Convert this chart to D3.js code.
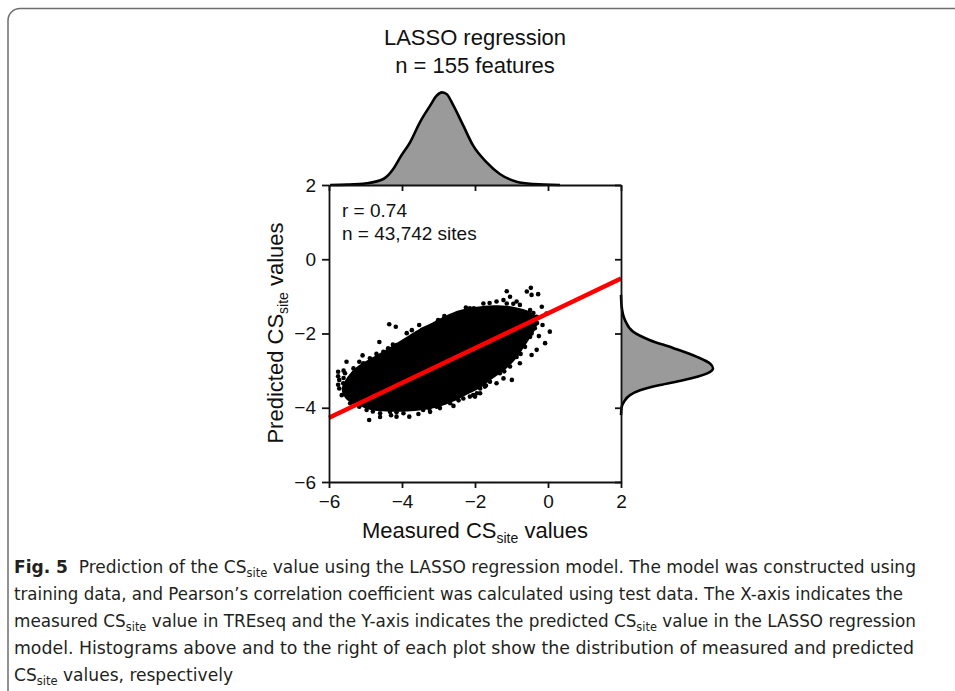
<!DOCTYPE html>
<html><head><meta charset="utf-8">
<script src="https://cdn.jsdelivr.net/npm/d3@7"></script>
<style>body{margin:0;background:#fff} svg{display:block}</style>
</head><body><svg id="c" width="955" height="691"></svg>
<script>
// ---------- data ----------
const axisTicks = [-6, -4, -2, 0, 2];
const titleLines = ["LASSO regression", "n = 155 features"];
const statLines = ["r = 0.74", "n = 43,742 sites"];
// density of measured values (top margin): [value, density]
const topDensity = [[-5.97,0],[-5.5,0.002],[-4.97,0.010],[-4.51,0.036],[-4.24,0.096],[-4.05,0.166],[-3.78,0.256],[-3.51,0.376],[-3.23,0.476],[-3.05,0.536],[-2.91,0.556],[-2.78,0.546],[-2.59,0.476],[-2.32,0.356],[-2.05,0.236],[-1.68,0.136],[-1.32,0.066],[-0.86,0.020],[-0.40,0.006],[0.33,0]];
// density of predicted values (right margin): [value, density]
const rightDensity = [[-0.96,0],[-1.28,0.004],[-1.64,0.024],[-1.95,0.072],[-2.18,0.174],[-2.39,0.312],[-2.63,0.456],[-2.81,0.534],[-2.94,0.552],[-3.08,0.514],[-3.26,0.372],[-3.39,0.234],[-3.53,0.114],[-3.66,0.054],[-3.84,0.018],[-3.98,0.004],[-4.2,0]];
// outline of the solid, over-plotted core of the point cloud (measured, predicted)
const cloudCore = [[-5.55,-3.25],[-5.28,-2.93],[-4.85,-2.67],[-4.40,-2.41],[-3.96,-2.14],[-3.51,-1.87],[-3.14,-1.69],[-2.78,-1.51],[-2.41,-1.37],[-1.95,-1.28],[-1.50,-1.24],[-0.95,-1.28],[-0.60,-1.37],[-0.36,-1.51],[-0.28,-1.66],[-0.36,-1.91],[-0.53,-2.18],[-0.71,-2.45],[-0.90,-2.71],[-1.16,-2.96],[-1.52,-3.22],[-1.88,-3.48],[-2.25,-3.66],[-2.61,-3.84],[-2.98,-3.97],[-3.42,-4.06],[-3.87,-4.10],[-4.42,-4.10],[-4.86,-4.06],[-5.20,-3.93],[-5.50,-3.80],[-5.64,-3.58],[-5.64,-3.43]];
// sites sitting on the ragged edge of the core
const edgePoints = [[-4.51,-2.49],[-4.38,-2.40],[-4.15,-2.31],[-4.01,-2.36],[-3.78,-2.13],[-3.60,-2.04],[-3.32,-1.91],[-3.14,-1.82],[-2.96,-1.73],[-2.68,-1.55],[-2.41,-1.46],[-4.88,-2.67],[-5.06,-2.80],[-5.33,-2.94],[-5.56,-3.07],[-5.61,-3.34],[-5.56,-3.52],[-5.42,-3.70],[-5.15,-3.88],[-4.97,-4.06],[-4.60,-4.15],[-4.33,-4.11],[-3.96,-4.15],[-3.42,-4.06],[-3.05,-3.97],[-2.68,-3.88],[-2.32,-3.75],[-2.05,-3.66],[-2.14,-1.32],[-1.77,-1.19],[-1.41,-1.14],[-1.13,-1.19],[-0.77,-1.23],[-0.49,-1.37],[-0.31,-1.55],[-0.36,-1.86],[-0.49,-2.09],[-0.63,-2.36],[-0.86,-2.63],[-1.04,-2.89],[-1.32,-3.07],[-1.59,-3.30],[-1.86,-3.48],[-4.70,-2.55],[-4.25,-2.30],[-3.45,-1.90],[-2.85,-1.62],[-2.25,-1.30],[-1.60,-1.18],[-0.95,-1.20],[-0.40,-1.45],[-0.30,-1.72],[-0.45,-2.00],[-0.75,-2.55],[-1.20,-3.02],[-1.70,-3.40],[-2.45,-3.80],[-3.25,-4.02],[-4.15,-4.12],[-4.80,-4.10],[-5.35,-3.85],[-5.60,-3.20]];
// individual sites visible around the core
const cloudPoints = [[-4.35,-1.75],[-4.17,-1.82],[-3.53,-1.77],[-4.62,-2.23],[-5.08,-2.59],[-5.52,-2.76],[-5.17,-2.76],[-4.79,-2.71],[-3.73,-1.91],[-3.87,-1.99],[-2.03,-1.32],[-2.84,-1.53],[-3.01,-1.64],[-5.75,-3.03],[-5.72,-3.25],[-5.72,-3.48],[-5.65,-3.66],[-4.90,-4.33],[-4.15,-4.24],[-3.80,-4.24],[-3.55,-4.17],[-3.23,-4.11],[-2.96,-4.01],[-2.59,-3.95],[-2.14,-3.70],[-1.95,-3.61],[-5.17,-3.97],[-5.42,-3.88],[-0.47,-0.77],[-0.58,-0.87],[-0.27,-0.94],[-0.45,-0.96],[-1.04,-1.01],[-0.86,-1.14],[-1.22,-1.10],[-0.17,-1.28],[-0.04,-1.46],[0.05,-1.95],[-0.08,-2.26],[-0.15,-1.77],[-0.31,-2.44],[-0.45,-2.58],[-0.77,-2.80],[-0.99,-3.25],[-1.22,-3.21],[-1.41,-3.34],[-1.73,-3.43],[-1.86,-3.61],[-2.00,-3.70],[-1.13,-0.86],[-0.25,-2.07],[-5.75,-3.15],[-5.75,-3.38],[-5.6,-3.0],[-4.6,-4.25],[-4.3,-4.2]];
// least-squares fit line end points
const fitLine = [[-6, -4.27], [2, -0.52]];
// caption, as runs of text: b = bold, s = subscript
const captionLines = [
  [{t:"Fig. 5", b:1},{t:"\u00a0 Prediction of the CS"},{t:"site", s:1},{t:" value using the LASSO regression model. The model was constructed using"}],
  [{t:"training data, and Pearson\u2019s correlation coefficient was calculated using test data. The X-axis indicates the"}],
  [{t:"measured CS"},{t:"site", s:1},{t:" value in TREseq and the Y-axis indicates the predicted CS"},{t:"site", s:1},{t:" value in the LASSO regression"}],
  [{t:"model. Histograms above and to the right of each plot show the distribution of measured and predicted"}],
  [{t:"CS"},{t:"site", s:1},{t:" values, respectively"}]
];
const captionWidths = [902, 889, 902, 900, 219];

// ---------- drawing ----------
const svg = d3.select("#c");
const x = d3.scaleLinear([-6, 2], [329, 621]);
const y = d3.scaleLinear([-6, 2], [482, 185]);
const dens = d3.scaleLinear([0, 0.6], [0, 100]);
const FONT = "'Liberation Sans', Arial, Helvetica, sans-serif";

// figure frame
svg.append("rect").attr("x", 8).attr("y", 8.5).attr("width", 1000).attr("height", 720)
  .attr("rx", 12).attr("fill", "none").attr("stroke", "#6e6e6e").attr("stroke-width", 1.5);

// titles
svg.selectAll("text.title").data(titleLines).join("text").attr("class", "title")
  .attr("x", 475).attr("y", (d, i) => 45 + i * 28).attr("text-anchor", "middle")
  .attr("font-family", FONT).attr("font-size", 22).attr("fill", "#111").text(d => d);

// core cloud
svg.append("path").datum(cloudCore)
  .attr("d", d3.line().x(d => x(d[0])).y(d => y(d[1])).curve(d3.curveCatmullRomClosed))
  .attr("fill", "#000");
svg.append("g").selectAll("circle").data(edgePoints.concat(cloudPoints)).join("circle")
  .attr("cx", d => x(d[0])).attr("cy", d => y(d[1])).attr("r", 2.3).attr("fill", "#000");

// fit line
svg.append("path").datum(fitLine)
  .attr("d", d3.line().x(d => x(d[0])).y(d => y(d[1])))
  .attr("stroke", "#ff0000").attr("stroke-width", 4.5).attr("fill", "none");

// densities
svg.append("path").datum(topDensity)
  .attr("d", d3.area().x(d => x(d[0])).y0(y(2)).y1(d => y(2) - dens(d[1])).curve(d3.curveMonotoneX))
  .attr("fill", "#9a9a9a");
svg.append("path").datum(topDensity)
  .attr("d", d3.line().x(d => x(d[0])).y(d => y(2) - dens(d[1])).curve(d3.curveMonotoneX))
  .attr("fill", "none").attr("stroke", "#000").attr("stroke-width", 2.6);
svg.append("path").datum(rightDensity)
  .attr("d", d3.area().y(d => y(d[0])).x0(x(2)).x1(d => x(2) + dens(d[1])).curve(d3.curveMonotoneY))
  .attr("fill", "#9a9a9a");
svg.append("path").datum(rightDensity)
  .attr("d", d3.line().y(d => y(d[0])).x(d => x(2) + dens(d[1])).curve(d3.curveMonotoneY))
  .attr("fill", "none").attr("stroke", "#000").attr("stroke-width", 2.6);

// axes
function styleAxis(g) {
  g.selectAll("path.domain").attr("stroke", "#111").attr("stroke-width", 1.8);
  g.selectAll(".tick line").attr("stroke", "#111").attr("stroke-width", 1.8);
  g.selectAll(".tick text").attr("font-family", FONT).attr("font-size", 19).attr("fill", "#111");
}
const fmt = d => d < 0 ? "\u2212" + Math.abs(d) : String(d);
svg.append("g").attr("transform", `translate(0,${y(-6)})`)
  .call(d3.axisBottom(x).tickValues(axisTicks).tickFormat(fmt).tickSize(6).tickSizeOuter(0).tickPadding(7))
  .call(styleAxis);
svg.append("g").attr("transform", `translate(${x(-6)},0)`)
  .call(d3.axisLeft(y).tickValues(axisTicks).tickFormat(fmt).tickSize(7).tickSizeOuter(0).tickPadding(6))
  .call(styleAxis);
svg.append("g").attr("transform", `translate(0,${y(2)})`)
  .call(d3.axisTop(x).tickValues(axisTicks).tickFormat("").tickSize(-6).tickSizeOuter(0))
  .call(styleAxis);
svg.append("g").attr("transform", `translate(${x(2)},0)`)
  .call(d3.axisRight(y).tickValues(axisTicks).tickFormat("").tickSize(-6).tickSizeOuter(0))
  .call(styleAxis);

// in-plot stats
svg.selectAll("text.stat").data(statLines).join("text").attr("class", "stat")
  .attr("x", 342).attr("y", (d, i) => 217 + i * 23)
  .attr("font-family", FONT).attr("font-size", 19).attr("fill", "#111").text(d => d);

// axis titles with subscripts
function subTitle(sel, parts) {
  sel.append("tspan").text(parts[0]);
  sel.append("tspan").attr("font-size", 14).attr("dy", 5).text(parts[1]);
  sel.append("tspan").attr("dy", -5).text(parts[2]);
}
svg.append("text").attr("x", 475).attr("y", 538).attr("text-anchor", "middle")
  .attr("font-family", FONT).attr("font-size", 22).attr("fill", "#111")
  .call(subTitle, ["Measured CS", "site", " values"]);
svg.append("text").attr("transform", "translate(283,333) rotate(-90)").attr("text-anchor", "middle")
  .attr("font-family", FONT).attr("font-size", 22).attr("fill", "#111")
  .call(subTitle, ["Predicted CS", "site", " values"]);

// caption
const CAP = "'Liberation Sans Narrow', 'DejaVu Sans Condensed', 'Noto Sans', sans-serif";
captionLines.forEach((runs, i) => {
  const t = svg.append("text").attr("x", 14).attr("y", 573 + i * 27)
    .attr("font-family", CAP).attr("font-size", 18.5).attr("fill", "#231f20")
    .attr("textLength", captionWidths[i]).attr("lengthAdjust", "spacingAndGlyphs");
  let shifted = false;
  runs.forEach(r => {
    const ts = t.append("tspan").text(r.t);
    if (r.b) ts.attr("font-weight", "bold");
    if (r.s) { ts.attr("font-size", 12.5).attr("dy", 4); shifted = true; }
    else if (shifted) { ts.attr("dy", -4); shifted = false; }
  });
});
</script></body></html>
